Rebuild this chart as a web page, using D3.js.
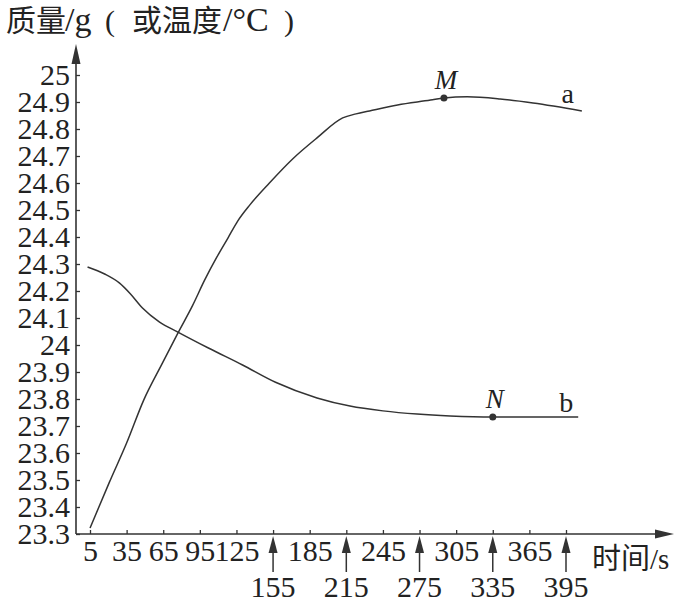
<!DOCTYPE html>
<html><head><meta charset="utf-8">
<script src="https://cdn.jsdelivr.net/npm/d3@7/dist/d3.min.js"></script>
<style>
html,body{margin:0;padding:0;background:#fff;}
svg{display:block;}
text{font-family:"Liberation Serif","Times New Roman","Noto Sans CJK SC",serif;fill:#222;}
</style>
</head><body>
<svg id="c" width="686" height="606"></svg>
<script>
// ---- data ----
const seriesATime = [5, 21, 35, 49, 64, 77, 89, 99, 109, 118, 126, 136, 152, 171, 191, 212, 223, 234, 257, 284, 295, 314, 341, 368, 408];
const seriesAValue = [23.322, 23.493, 23.637, 23.796, 23.93, 24.044, 24.146, 24.241, 24.326, 24.396, 24.459, 24.519, 24.6, 24.689, 24.767, 24.841, 24.856, 24.867, 24.889, 24.907, 24.915, 24.919, 24.911, 24.896, 24.867];
const seriesBTime = [3, 17, 29, 38, 48, 62, 77, 102, 130, 157, 191, 218, 245, 273, 300, 335, 405];
const seriesBValue = [24.289, 24.263, 24.23, 24.19, 24.137, 24.085, 24.048, 23.989, 23.926, 23.862, 23.804, 23.774, 23.756, 23.744, 23.737, 23.733, 23.733];
const pointM = {label: "M", t: 295, v: 24.915};
const pointN = {label: "N", t: 335, v: 23.733};
const yTickValues = [23.3,23.4,23.5,23.6,23.7,23.8,23.9,24,24.1,24.2,24.3,24.4,24.5,24.6,24.7,24.8,24.9,25];
const yTickLabels = ["23.3","23.4","23.5","23.6","23.7","23.8","23.9","24","24.1","24.2","24.3","24.4","24.5","24.6","24.7","24.8","24.9","25"];
const xTopLabels = [5, 35, 65, 95, 125, 185, 245, 305, 365];
const xArrowLabels = [155, 215, 275, 335, 395];
const yTitleParts = ["质量", "/g", "(", "或温度", "/°C", ")"];
const xTitle = "时间/s";
const curveLabels = ["a", "b"];

// ---- drawing ----
const svg = d3.select("#c");
const ink = "#333";
const serif = '"Liberation Serif","Times New Roman","Noto Sans CJK SC",serif';
const x = d3.scaleLinear().domain([5, 395]).range([90, 566]);
const y = d3.scaleLinear().domain([23.3, 25]).range([534, 75]);
const x0 = 76, y0 = 534;

// y axis
const yAxis = d3.axisLeft(y).tickValues(yTickValues)
  .tickFormat((d,i) => yTickLabels[i]).tickSize(-4).tickSizeOuter(0).tickPadding(6);
const gy = svg.append("g").attr("transform", `translate(${x0},0)`).call(yAxis);
gy.select(".domain").remove();
gy.selectAll(".tick line").attr("stroke", ink).attr("stroke-width", 1.3);
gy.selectAll(".tick text").attr("font-size", 30).attr("fill", "#222").attr("font-family", serif);

// x axis
const allX = xTopLabels.concat(xArrowLabels).sort((a,b)=>a-b);
const xAxis = d3.axisBottom(x).tickValues(allX)
  .tickFormat(d => xTopLabels.includes(d) ? String(d) : "").tickSize(-4).tickSizeOuter(0).tickPadding(6);
const gx = svg.append("g").attr("transform", `translate(0,${y0})`).call(xAxis);
gx.select(".domain").remove();
gx.selectAll(".tick line").attr("stroke", ink).attr("stroke-width", 1.3);
gx.selectAll(".tick text").attr("font-size", 30).attr("fill", "#222").attr("font-family", serif);

// axis lines with arrowheads
svg.append("line").attr("x1", x0).attr("y1", y0).attr("x2", x0).attr("y2", 55)
  .attr("stroke", ink).attr("stroke-width", 1.6);
svg.append("path").attr("d", `M${x0},44 L${x0-4.5},64 L${x0+4.5},64 Z`).attr("fill", ink);
svg.append("line").attr("x1", x0).attr("y1", y0).attr("x2", 662).attr("y2", y0)
  .attr("stroke", ink).attr("stroke-width", 1.6);
svg.append("path").attr("d", `M674,${y0} L655,${y0-4.5} L655,${y0+4.5} Z`).attr("fill", ink);

// up arrows + lower labels
const ga = svg.append("g");
xArrowLabels.forEach(t => {
  const px = x(t);
  ga.append("line").attr("x1", px).attr("x2", px).attr("y1", 572).attr("y2", 548)
    .attr("stroke", ink).attr("stroke-width", 1.5);
  ga.append("path").attr("d", `M${px},${y0+2} L${px-4.5},${y0+19} L${px+4.5},${y0+19} Z`).attr("fill", ink);
  ga.append("text").attr("x", px).attr("y", 597).attr("text-anchor", "middle")
    .attr("font-size", 30).text(String(t));
});

// titles
const tt = svg.append("text").attr("y", 31);
const partX = [6, 65, 105, 132, 223, 284];
const partSize = [30, 34, 30, 30, 34, 30];
yTitleParts.forEach((p, i) => tt.append("tspan").attr("x", partX[i]).attr("font-size", partSize[i]).text(p));
svg.append("text").attr("x", 592).attr("y", 569).attr("font-size", 29).text(xTitle);

// curves
const line = d3.line().x(d => x(d[0])).y(d => y(d[1])).curve(d3.curveMonotoneX);
const dataA = seriesATime.map((t,i) => [t, seriesAValue[i]]);
const dataB = seriesBTime.map((t,i) => [t, seriesBValue[i]]);
svg.append("path").datum(dataA).attr("d", line).attr("fill", "none").attr("stroke", ink).attr("stroke-width", 1.5);
svg.append("path").datum(dataB).attr("d", line).attr("fill", "none").attr("stroke", ink).attr("stroke-width", 1.5);

// points
[pointM, pointN].forEach(p => {
  svg.append("circle").attr("cx", x(p.t)).attr("cy", y(p.v)).attr("r", 3.5).attr("fill", ink);
  svg.append("text").attr("x", x(p.t) + 2).attr("y", y(p.v) - 9).attr("text-anchor", "middle")
    .attr("font-size", 27).attr("font-style", "italic").text(p.label);
});

// curve labels
const endA = dataA[dataA.length-1], endB = dataB[dataB.length-1];
svg.append("text").attr("x", x(endA[0]) - 8).attr("y", y(endA[1]) - 8).attr("text-anchor","end")
  .attr("font-size", 28).text(curveLabels[0]);
svg.append("text").attr("x", x(endB[0]) - 5).attr("y", y(endB[1]) - 5).attr("text-anchor","end")
  .attr("font-size", 28).text(curveLabels[1]);
</script>
</body></html>
